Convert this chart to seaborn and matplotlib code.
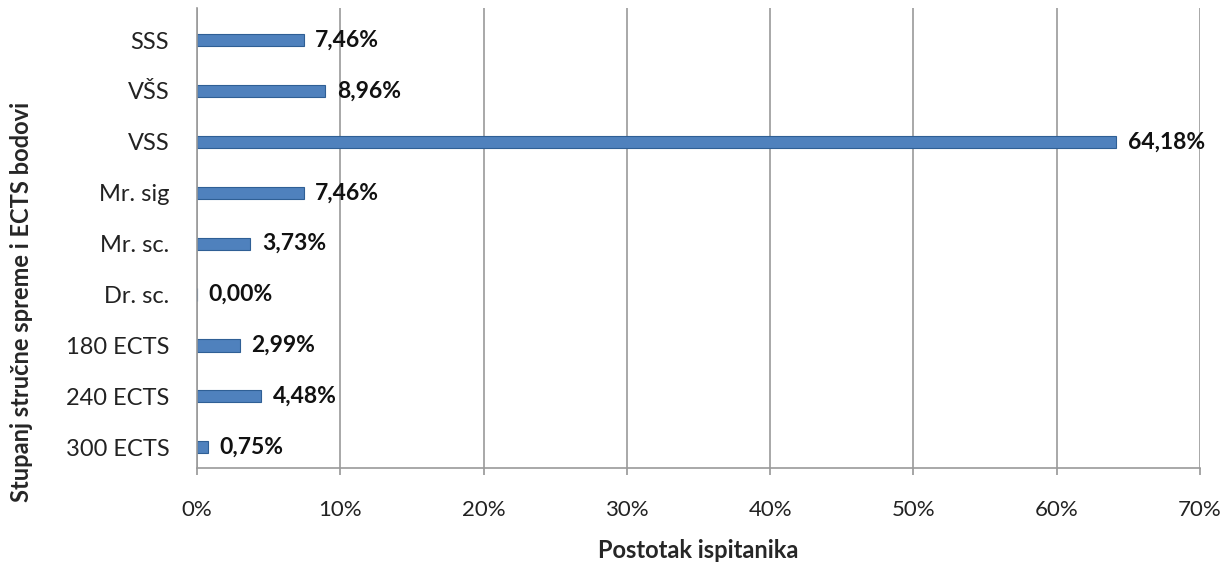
import pandas as pd
import matplotlib.pyplot as plt
import seaborn as sns
from matplotlib.ticker import FuncFormatter

categories = ['SSS', 'VŠS', 'VSS', 'Mr. sig', 'Mr. sc.', 'Dr. sc.', '180 ECTS', '240 ECTS', '300 ECTS']
values = [7.46, 8.96, 64.18, 7.46, 3.73, 0.00, 2.99, 4.48, 0.75]

df = pd.DataFrame({'cat': categories, 'val': values})

sns.set_theme(style='white')
plt.rcParams['font.family'] = ['Lato', 'DejaVu Sans']

fig = plt.figure(figsize=(12.2, 5.63), dpi=100)
ax = fig.add_axes([0.1615, 0.1687, 0.822, 0.817])

sns.barplot(data=df, x='val', y='cat', order=categories, orient='h', ax=ax,
            color='#4f81bd', width=0.24, edgecolor='#2f5f95', linewidth=0.8,
            saturation=1)

for i, v in enumerate(values):
    ax.text(v + 0.8, i, f"{v:.2f}%".replace('.', ','), va='center', ha='left',
            fontsize=16.5, fontweight='bold', color='#111111')

ax.set_xlim(0, 70)
ax.set_ylim(8.41, -0.63)
ax.set_xticks(range(0, 71, 10))
ax.xaxis.set_major_formatter(FuncFormatter(lambda x, p: f"{int(x)}%"))
ax.grid(axis='x', color='#9a9a9a', linewidth=1.2)
ax.grid(axis='y', visible=False)
ax.set_axisbelow(True)
for s in ['top', 'right']:
    ax.spines[s].set_visible(False)
ax.spines['left'].set_color('#9a9a9a')
ax.spines['bottom'].set_color('#9a9a9a')
ax.spines['left'].set_linewidth(1.2)
ax.spines['bottom'].set_linewidth(1.2)
ax.tick_params(axis='x', labelsize=16, colors='#222222', length=5, color='#9a9a9a', bottom=True, pad=18)
ax.tick_params(axis='y', labelsize=17, colors='#222222', length=0, pad=20)

ax.set_xlabel('Postotak ispitanika', fontsize=17, fontweight='bold', labelpad=14)
ax.set_ylabel('Stupanj stručne spreme i ECTS bodovi', fontsize=17, fontweight='bold')
ax.yaxis.set_label_coords(-0.164, 0.36)

fig.savefig('out.png', dpi=100)
